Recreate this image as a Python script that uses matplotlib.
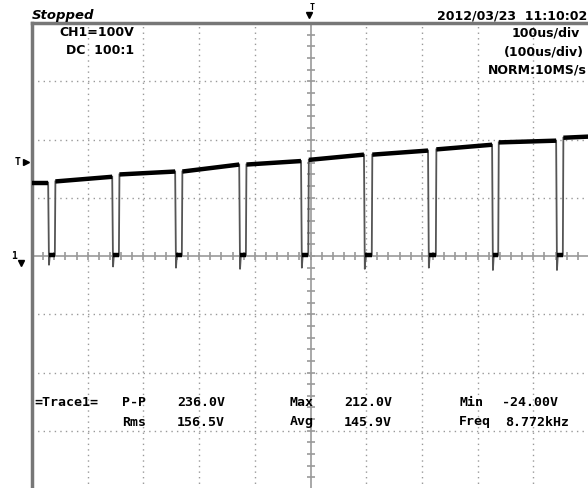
import matplotlib.pyplot as plt

# time in us, voltage in V (100 us/div, 100 V/div)
fall_us = [29, 144, 257, 372, 483, 596, 711, 826, 941]
rise_us = [41, 156, 269, 384, 496, 610, 725, 837, 953]
high_start_v = [126, 128, 140, 145, 157, 165, 174, 183, 195, 203]
high_end_v = [126, 136, 145, 157, 163, 174, 181, 191, 198, 205]
undershoot_v = [-15, -18, -20, -22, -20, -22, -20, -24, -24]
low_v = [2, 2, 2, 2, 2, 2, 2, 2, 2]

W, H = 588, 489
fig = plt.figure(figsize=(W / 100, H / 100), dpi=100)
ax = fig.add_axes([32 / W, (H - 490) / H, 557 / W, 466 / H])
ax.set_xlim(0, 1000)
ax.set_ylim(-400, 400)
ax.set_xticks([])
ax.set_yticks([])
for s in ["right", "bottom"]:
    ax.spines[s].set_visible(False)
for s in ["top", "left"]:
    ax.spines[s].set_color("#777777")
    ax.spines[s].set_linewidth(2.5)

# dotted grid
for t in range(100, 1000, 100):
    if t != 500:
        ax.axvline(t, color="#999999", lw=1, ls=(0, (1, 3)), zorder=1)
for v in range(-300, 400, 100):
    if v != 0:
        ax.axhline(v, color="#999999", lw=1, ls=(0, (1, 3)), zorder=1)

# centre axes with fine ticks
ax.axvline(500, color="#999999", lw=1.2, zorder=1)
ax.axhline(0, color="#999999", lw=1.2, zorder=1)
fine = list(range(-400, 401, 20))
ax.plot([500] * len(fine), fine, ls="none", marker="_", ms=6, mew=1.2, color="#999999", zorder=1)
fine_t = list(range(0, 1001, 20))
ax.plot(fine_t, [0] * len(fine_t), ls="none", marker="|", ms=6, mew=1.2, color="#999999", zorder=1)

# edges (thin gray)
for i in range(len(fall_us)):
    ax.plot([fall_us[i], fall_us[i] + 1.5, fall_us[i] + 3],
            [high_end_v[i], undershoot_v[i], low_v[i]], color="#555555", lw=1.3, zorder=2)
    ax.plot([rise_us[i], rise_us[i] + 1],
            [low_v[i], high_start_v[i + 1]], color="#555555", lw=1.3, zorder=2)

# plateaus and low parts (thick black)
starts = [0] + [r + 1 for r in rise_us]
ends = fall_us + [1000]
for i in range(len(starts)):
    ax.plot([starts[i], ends[i]], [high_start_v[i], high_end_v[i]],
            color="black", lw=3.2, solid_capstyle="butt", zorder=3)
for i in range(len(fall_us)):
    ax.plot([fall_us[i] + 2, rise_us[i]], [low_v[i], low_v[i]],
            color="black", lw=3.2, solid_capstyle="butt", zorder=3)


def px(x, y, s, ha="left", **kw):
    kw.setdefault("family", "DejaVu Sans Mono")
    kw.setdefault("weight", "bold")
    kw.setdefault("fontsize", 9.5)
    fig.text(x / W, 1 - y / H, s, ha=ha, va="center", **kw)


def marker(x, y, m, ms):
    fig.add_artist(plt.Line2D([x / W], [1 - y / H], marker=m, ms=ms, color="black",
                              ls="none", transform=fig.transFigure))


px(32, 15, "Stopped", family="DejaVu Sans", style="italic", fontsize=9.5)
px(587, 16, "2012/03/23  11:10:02", ha="right", family="DejaVu Sans", fontsize=9)
px(59, 33, "CH1=100V", family="DejaVu Sans", fontsize=9)
px(66, 51, "DC  100:1", family="DejaVu Sans", fontsize=9)
px(580, 33, "100us/div", ha="right", family="DejaVu Sans", fontsize=9)
px(584, 52, "(100us/div)", ha="right", family="DejaVu Sans", fontsize=9)
px(587, 70, "NORM:10MS/s", ha="right", family="DejaVu Sans", fontsize=9)

# trigger and ground markers
px(312, 8, "T", ha="center", fontsize=6)
marker(309, 16, "v", 5)
px(18, 162, "T", ha="center", fontsize=7)
marker(26, 163, ">", 5)
px(14, 256, "1", ha="center", fontsize=7)
marker(21, 264, "v", 4)

# measurements
row1 = ["=Trace1=", "P-P", "236.0V", "Max", "212.0V", "Min", "-24.00V"]
row1_x = [34, 122, 177, 290, 344, 459, 502]
row2 = ["Rms", "156.5V", "Avg", "145.9V", "Freq", "8.772kHz"]
row2_x = [122, 177, 290, 344, 459, 505]
for s, x in zip(row1, row1_x):
    px(x, 402, s)
for s, x in zip(row2, row2_x):
    px(x, 422, s)

fig.savefig("out.png", dpi=100)
